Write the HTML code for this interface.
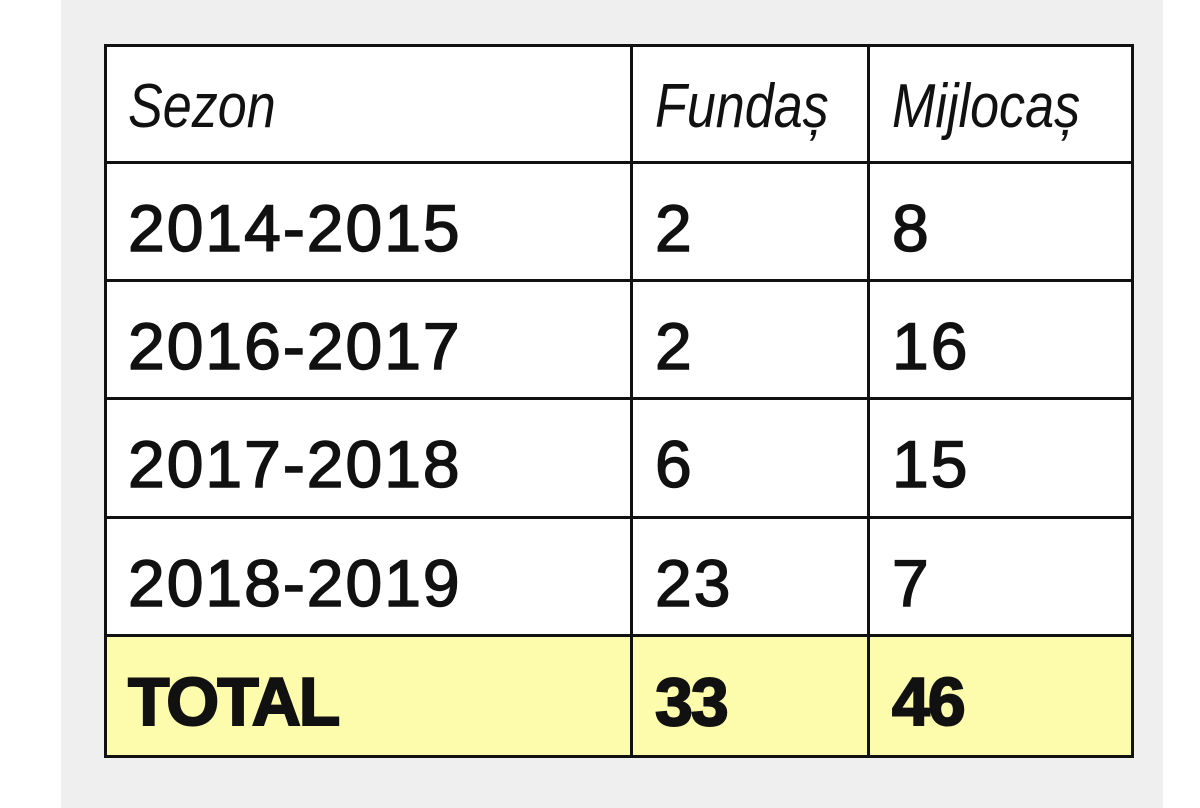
<!DOCTYPE html>
<html><head><style>
html,body{margin:0;padding:0;width:1200px;height:808px;background:#fff;overflow:hidden}
.panel{position:absolute;left:61px;top:0;width:1102px;height:808px;background:#efefef}
.t{position:absolute;left:104px;top:44px;width:1030px;height:714px;background:#fff;border:3px solid #111;box-sizing:border-box}
.h{position:absolute;left:104px;height:3px;width:1030px;background:#111}
.v{position:absolute;top:44px;width:3px;height:714px;background:#111}
.tx{position:absolute;font-family:"Liberation Sans",sans-serif;color:#111;white-space:nowrap;line-height:1}
.hd{font-style:italic;font-size:62px;transform:scaleX(.84);transform-origin:left}
.b{font-size:66px;letter-spacing:2px;-webkit-text-stroke:1.5px #111}
.bb{font-size:68px;font-weight:bold;letter-spacing:-2px;-webkit-text-stroke:2px #111}
</style></head><body>
<div class="panel"></div>
<div class="t"></div>
<div style="position:absolute;left:107px;top:637px;width:1024px;height:118px;background:#fdfbac"></div>
<div class="h" style="top:161px"></div>
<div class="h" style="top:279px"></div>
<div class="h" style="top:397px"></div>
<div class="h" style="top:516px"></div>
<div class="h" style="top:634px"></div>
<div class="v" style="left:630px"></div>
<div class="v" style="left:867px"></div>
<div class="tx hd" style="left:128px;top:76px">Sezon</div>
<div class="tx hd" style="left:655px;top:76px">Fundaș</div>
<div class="tx hd" style="left:892px;top:76px">Mijlocaș</div>
<div class="tx b" style="left:128px;top:195px">2014-2015</div>
<div class="tx b" style="left:655px;top:195px">2</div>
<div class="tx b" style="left:892px;top:195px">8</div>
<div class="tx b" style="left:128px;top:313px">2016-2017</div>
<div class="tx b" style="left:655px;top:313px">2</div>
<div class="tx b" style="left:892px;top:313px">16</div>
<div class="tx b" style="left:128px;top:431px">2017-2018</div>
<div class="tx b" style="left:655px;top:431px">6</div>
<div class="tx b" style="left:892px;top:431px">15</div>
<div class="tx b" style="left:128px;top:550px">2018-2019</div>
<div class="tx b" style="left:655px;top:550px">23</div>
<div class="tx b" style="left:892px;top:550px">7</div>
<div class="tx bb" style="left:128px;top:668px">TOTAL</div>
<div class="tx bb" style="left:655px;top:668px">33</div>
<div class="tx bb" style="left:892px;top:668px">46</div>
</body></html>
